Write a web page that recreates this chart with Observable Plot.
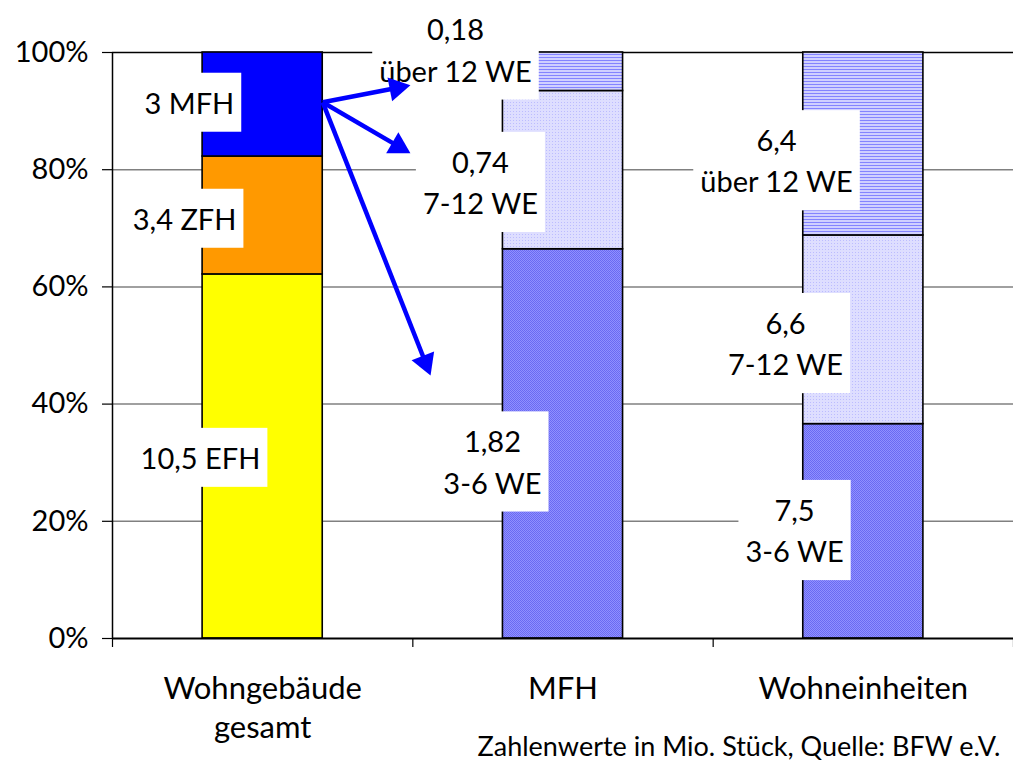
<!DOCTYPE html>
<html><head><meta charset="utf-8">
<script src="https://cdn.jsdelivr.net/npm/d3@7"></script>
<script src="https://cdn.jsdelivr.net/npm/@observablehq/plot@0.6"></script>
<style>body{margin:0;background:#fff} svg{display:block}</style>
</head><body><div id="chart"></div>
<script>
// ---- data ----
const categories = ["Wohngebäude\ngesamt", "MFH", "Wohneinheiten"];
const buildingTypes = ["EFH", "ZFH", "MFH"];
const buildingValues = [10.5, 3.4, 3];
const mfhClasses = ["3-6 WE", "7-12 WE", "über 12 WE"];
const mfhValues = [1.82, 0.74, 0.18];
const dwellingValues = [7.5, 6.6, 6.4];
const yTicks = [0, 0.2, 0.4, 0.6, 0.8, 1];
const caption = "Zahlenwerte in Mio. Stück, Quelle: BFW e.V.";

// ---- styles / layout ----
const buildingFills = ["#ffff00", "#ff9900", "#0000ff"];
const classFills = ["url(#pat36)", "url(#pat712)", "url(#pat12)"];
const W = 1013, H = 765, mL = 112, mT = 52, mB = 127;
const barHalf = 0.2;
// label placement per [column, segment]: x (data units), y (share)
const labelPlacement = [
  [0, 2, 0.256, 0.918], [0, 1, 0.240, 0.720], [0, 0, 0.293, 0.312],
  [1, 2, 1.142, 1.008], [1, 1, 1.225, 0.782], [1, 0, 1.265, 0.305],
  [2, 2, 2.211, 0.819], [2, 1, 2.241, 0.507], [2, 0, 2.271, 0.188]
];
// arrows: from top of MFH segment to MFH column
const arrowStart = [0.5 + barHalf, 0.915];
const arrowTips = [[0.992, 0.944], [0.992, 0.828], [1.059, 0.449]];

const fmt = v => String(v).replace(".", ",");
function stack(col, names, vals, fills) {
  const total = d3.sum(vals);
  let c = 0;
  return vals.map((v, i) => {
    const y1 = c / total; c += v;
    return {col, seg: i, name: names[i], value: v, y1, y2: c / total, fill: fills[i],
      x1: col + 0.5 - barHalf, x2: col + 0.5 + barHalf};
  });
}
const rows = [
  ...stack(0, buildingTypes, buildingValues, buildingFills),
  ...stack(1, mfhClasses, mfhValues, classFills),
  ...stack(2, mfhClasses, dwellingValues, classFills)
];
const labels = labelPlacement.map(([col, seg, x, y]) => {
  const r = rows.find(d => d.col === col && d.seg === seg);
  return {x, y, text: col === 0 ? `${fmt(r.value)} ${r.name}` : `${fmt(r.value)}\n${r.name}`};
});

// pixel helpers (match the plot's scales) for arrowhead orientation
const px = x => mL + x * (W - mL) / 3;
const py = y => (H - mB) - y * (H - mB - mT);
const ix = p => (p - mL) * 3 / (W - mL);
const iy = p => ((H - mB) - p) / (H - mB - mT);
const headH = 21;
const arrows = arrowTips.map(([tx, ty]) => {
  const sx = px(arrowStart[0]), sy = py(arrowStart[1]);
  const ex = px(tx), ey = py(ty);
  const a = Math.atan2(ey - sy, ex - sx);
  const ux = Math.cos(a), uy = Math.sin(a);
  return {
    x1: arrowStart[0], y1: arrowStart[1],
    x2: ix(ex - ux * headH * 0.8), y2: iy(ey - uy * headH * 0.8),
    hx: ix(ex - ux * headH * 2 / 3), hy: iy(ey - uy * headH * 2 / 3),
    rot: a * 180 / Math.PI + 90
  };
});

const font = "Lato, 'Open Sans', sans-serif";
const chart = Plot.plot({
  width: W, height: H,
  marginLeft: mL, marginRight: 0, marginTop: mT, marginBottom: mB,
  x: {domain: [0, 3], axis: null},
  y: {domain: [0, 1], axis: null},
  color: {type: "identity"},
  style: {fontFamily: font, color: "#000", background: "#fff", overflow: "visible"},
  marks: [
    Plot.ruleY([0.2, 0.4, 0.6, 0.8], {stroke: "#808080", strokeWidth: 1.5}),
    Plot.ruleY([1], {stroke: "#000", strokeWidth: 1.5}),
    Plot.rect(rows, {x1: "x1", x2: "x2", y1: "y1", y2: "y2", fill: "fill", stroke: "#000", strokeWidth: 1.6}),
    Plot.ruleX([0], {stroke: "#000", strokeWidth: 1.5}),
    Plot.ruleY([0], {stroke: "#000", strokeWidth: 2.2}),
    Plot.axisY({ticks: yTicks, tickFormat: d => Math.round(d * 100) + "%", tickSize: 10, tickPadding: 14, fontSize: 29, stroke: "#000", strokeWidth: 1.2}),
    Plot.axisX({ticks: [0, 1, 2, 3], tickFormat: () => "", tickSize: 9, stroke: "#000", strokeWidth: 1.2}),
    Plot.text(categories, {x: (d, i) => i + 0.5, y: 0, text: d => d, lineAnchor: "top", dy: 33, fontSize: 31, lineHeight: 1.26}),
    Plot.text([caption], {x: 3, y: 0, text: d => d, textAnchor: "end", dx: -13, dy: 109, fontSize: 27}),
    Plot.text(labels, {x: "x", y: "y", text: "text", fontSize: 29, lineHeight: 1.42, ariaDescription: "seg-labels"}),
    Plot.link(arrows, {x1: "x1", y1: "y1", x2: "x2", y2: "y2", stroke: "#0000ff", strokeWidth: 4.5}),
    Plot.dot(arrows, {x: "hx", y: "hy", symbol: "triangle", r: 9, rotate: "rot", fill: "#0000ff", stroke: "none"})
  ]
});
document.getElementById("chart").append(chart);

const svg = d3.select(chart);
svg.insert("defs", ":first-child").html(`
  <pattern id="pat36" patternUnits="userSpaceOnUse" width="2" height="2">
    <rect width="2" height="2" fill="#9090ff"/>
    <rect width="1" height="1" fill="#6a6af2"/><rect x="1" y="1" width="1" height="1" fill="#6a6af2"/>
  </pattern>
  <pattern id="pat712" patternUnits="userSpaceOnUse" width="3" height="3">
    <rect width="3" height="3" fill="#dedeff"/>
    <rect width="1" height="1" fill="#bcbcff"/>
  </pattern>
  <pattern id="pat12" patternUnits="userSpaceOnUse" width="3" height="3">
    <rect width="3" height="3" fill="#d0d0ff"/>
    <rect width="3" height="1" fill="#8484ff"/>
  </pattern>`);

// white boxes behind segment labels
const groups = svg.selectAll('g[aria-label="text"]').nodes();
const labelGroup = groups.find(g => g.getAttribute("aria-description") === "seg-labels") || groups[groups.length - 1];
d3.select(labelGroup).selectAll("text").each(function () {
  const bb = this.getBBox();
  d3.select(this.parentNode).insert("rect", () => this)
    .attr("x", bb.x - 7).attr("y", bb.y - 12)
    .attr("width", bb.width + 14).attr("height", bb.height + 24)
    .attr("fill", "#fff")
    .attr("transform", this.getAttribute("transform"));
});
</script>
</body></html>
